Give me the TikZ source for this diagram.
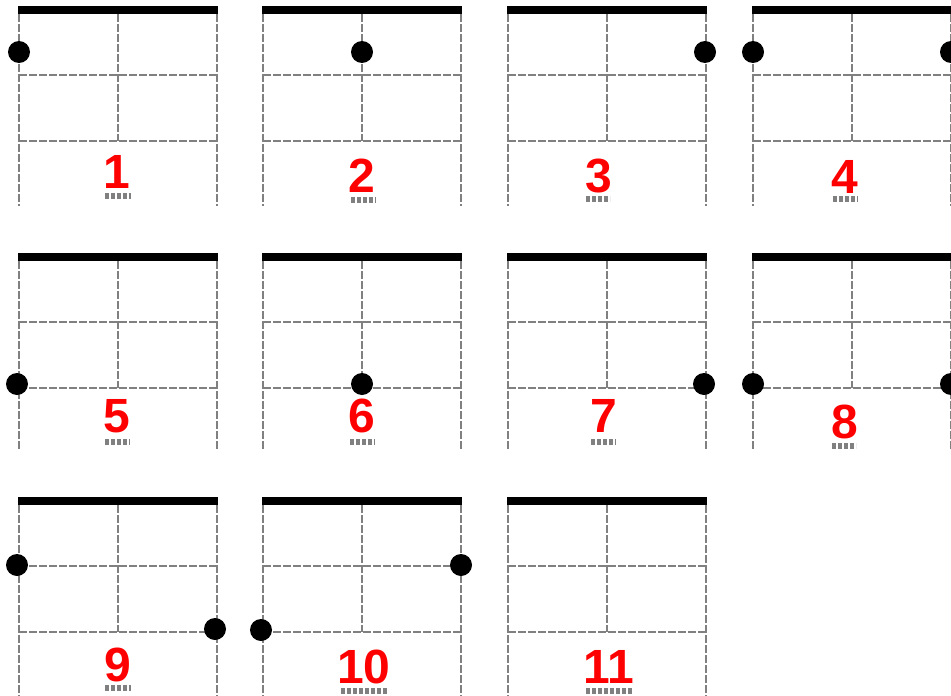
\documentclass[tikz,border=0pt]{standalone}
\usepackage{fontspec}
\setmainfont{Liberation Sans}
\definecolor{gridgray}{HTML}{808080}
\begin{document}
\begin{tikzpicture}[x=1pt,y=-1pt,
  gridline/.style={draw=gridgray,line width=1.8pt,dash pattern=on 7.5pt off 2.5pt},
  fretbar/.style={fill=black},
  dot/.style={circle,fill=black,inner sep=0pt,minimum size=22pt},
  lbl/.style={anchor=base,text=red,inner sep=0pt,font=\fontsize{48}{48}\selectfont\bfseries},
  ul/.style={draw=gridgray,line width=5.5pt,dash pattern=on 4pt off 2pt}]
\useasboundingbox (0,0) rectangle (951,696);
\clip (0,0) rectangle (951,696);
\newcommand\fretbox[3]{%
  \fill[fretbar] (#1-1,#2-4) rectangle (#1+199,#2+4);
  \draw[gridline] (#1,#2+4) -- (#1,#3);
  \draw[gridline] (#1+198,#2+4) -- (#1+198,#3);
  \draw[gridline] (#1+99,#2+4) -- (#1+99,#2+131);
  \draw[gridline] (#1,#2+65) -- (#1+198,#2+65);
  \draw[gridline] (#1,#2+131) -- (#1+198,#2+131);
}
% row 1
\fretbox{19}{10}{206}
\fretbox{263}{10}{206}
\fretbox{508}{10}{206}
\fretbox{753}{10}{206}
% row 2
\fretbox{19}{257}{450}
\fretbox{263}{257}{450}
\fretbox{508}{257}{450}
\fretbox{753}{257}{450}
% row 3
\fretbox{19}{501}{696}
\fretbox{263}{501}{696}
\fretbox{508}{501}{696}
% dots
\node[dot] (d1) at (19,52) {};
\node[dot] (d2) at (362,52) {};
\node[dot] (d3) at (705,52) {};
\node[dot] (d4a) at (753,52) {};
\node[dot] (d4b) at (951,52) {};
\node[dot] (d5) at (17,384) {};
\node[dot] (d6) at (362,384) {};
\node[dot] (d7) at (704,384) {};
\node[dot] (d8a) at (753,384) {};
\node[dot] (d8b) at (951,384) {};
\node[dot] (d9a) at (17,565) {};
\node[dot] (d9b) at (215,629) {};
\node[dot] (d10a) at (461,565) {};
\node[dot] (d10b) at (261,630) {};
% labels
\node[lbl] (n1) at (117,188) {1};
\node[lbl] (n2) at (362,192.5) {2};
\node[lbl] (n3) at (599,192) {3};
\node[lbl] (n4) at (845,193) {4};
\node[lbl] (n5) at (117,432) {5};
\node[lbl] (n6) at (362,432) {6};
\node[lbl] (n7) at (604,432) {7};
\node[lbl] (n8) at (845,438) {8};
\node[lbl] (n9) at (118,681) {9};
\node[lbl] (n10) at (364,683) {10};
\node[lbl] (n11) at (609,683) {11};
% dotted underlines
\draw[ul] (105,196) -- (131,196);
\draw[ul] (351,200) -- (376,200);
\draw[ul] (586,199) -- (610,199);
\draw[ul] (833,199) -- (858,199);
\draw[ul] (105,442) -- (130,442);
\draw[ul] (350,442) -- (375,442);
\draw[ul] (591,442) -- (616,442);
\draw[ul] (832,446) -- (856,446);
\draw[ul] (105,688) -- (131,688);
\draw[ul] (341,691) -- (388,691);
\draw[ul] (586,691) -- (633,691);
\end{tikzpicture}
\end{document}
